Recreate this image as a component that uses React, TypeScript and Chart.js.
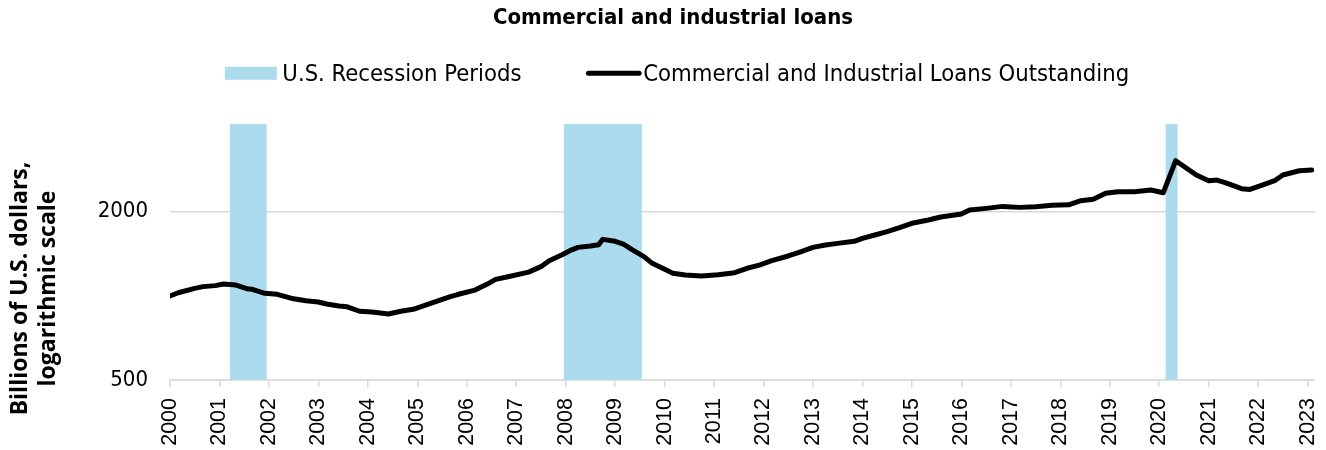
import React, { useEffect, useRef } from "react";
import { Chart, registerables } from "chart.js";

Chart.register(...registerables);

// ---------- text ----------
const TITLE = "Commercial and industrial loans";
const RECESSION_LABEL = "U.S. Recession Periods";
const LINE_LABEL = "Commercial and Industrial Loans Outstanding";
const Y_TITLE = ["Billions of U.S. dollars,", "logarithmic scale"];

// ---------- data ----------
const LOAN_DATES = [
  "2000-01", "2000-03", "2000-07", "2000-09", "2000-12",
  "2001-02", "2001-05", "2001-08", "2001-09", "2001-12",
  "2002-03", "2002-07", "2002-10",
  "2003-01", "2003-03", "2003-06", "2003-08", "2003-11",
  "2004-02", "2004-06", "2004-09", "2004-12",
  "2005-03", "2005-06", "2005-09", "2005-11",
  "2006-03", "2006-06", "2006-08", "2006-11",
  "2007-04", "2007-07", "2007-09", "2007-12",
  "2008-02", "2008-04", "2008-07", "2008-09", "2008-10",
  "2009-01", "2009-03", "2009-05", "2009-08", "2009-10",
  "2010-01", "2010-03", "2010-06", "2010-10",
  "2011-02", "2011-06", "2011-09", "2011-12",
  "2012-03", "2012-07", "2012-10",
  "2013-01", "2013-04", "2013-07", "2013-11",
  "2014-01", "2014-04", "2014-07", "2014-10",
  "2015-01", "2015-05", "2015-08",
  "2016-01", "2016-03", "2016-07", "2016-11",
  "2017-03", "2017-07", "2017-11",
  "2018-03", "2018-06", "2018-09", "2018-12",
  "2019-03", "2019-07", "2019-11",
  "2020-02", "2020-05", "2020-08", "2020-10",
  "2021-01", "2021-03", "2021-05", "2021-09", "2021-11",
  "2022-02", "2022-05", "2022-07", "2022-11",
  "2023-02",
];

const LOAN_VALUES = [
  1000, 1026, 1064, 1079, 1088,
  1102, 1093, 1058, 1055, 1021,
  1013, 976, 960,
  951, 935, 920, 914, 881,
  875, 861, 881, 895,
  927, 960, 993, 1013,
  1049, 1102, 1145, 1171,
  1216, 1272, 1336, 1400,
  1451, 1491, 1508, 1524, 1593,
  1567, 1533, 1466, 1382, 1307,
  1244, 1204, 1187, 1178,
  1190, 1210, 1255, 1289,
  1336, 1389, 1438,
  1491, 1520, 1541, 1567,
  1606, 1651, 1697, 1753,
  1818, 1868, 1915,
  1962, 2028, 2056, 2090,
  2073, 2084, 2108,
  2118, 2190, 2215, 2327,
  2358, 2358, 2392,
  2339, 3045, 2837, 2706,
  2582, 2597, 2543, 2418, 2404,
  2492, 2582, 2706, 2804,
  2820,
];

const RECESSION_STARTS = ["2001-03", "2007-12", "2020-02"];
const RECESSION_ENDS = ["2001-12", "2009-07", "2020-05"];

const YEAR_TICKS = [
  2000, 2001, 2002, 2003, 2004, 2005, 2006, 2007, 2008, 2009, 2010, 2011,
  2012, 2013, 2014, 2015, 2016, 2017, 2018, 2019, 2020, 2021, 2022, 2023,
];
const Y_TICKS = [500, 2000];

const X_MIN = 2000;
const X_MAX = 2023.15;
const Y_MIN = 500;
const Y_MAX = 4120;

// ---------- styles ----------
const COND = "'DejaVu Sans Condensed', 'DejaVu Sans', sans-serif";
const ARIAL = "'Liberation Sans', Arial, sans-serif";
const OPEN = "'Open Sans', 'Noto Sans', sans-serif";
const RECESSION_COLOR = "rgb(172, 219, 238)";
const GRID_COLOR = "#d9d9d9";

const monthStart = (s: string) => {
  const [y, m] = s.split("-").map(Number);
  return y + (m - 1) / 12;
};
const monthMid = (s: string) => monthStart(s) + 1 / 24;

const legendPlugin = {
  id: "customLegend",
  afterDraw(chart: any) {
    const ctx = chart.ctx as CanvasRenderingContext2D;
    ctx.save();
    ctx.font = `23.6px ${COND}`;
    ctx.textBaseline = "alphabetic";
    ctx.textAlign = "left";
    const w1 = ctx.measureText(RECESSION_LABEL).width;
    const w2 = ctx.measureText(LINE_LABEL).width;
    const sw1 = 52, gap1 = 5.5, between = 64.5, sw2 = 55.7, gap2 = 1.6;
    const total = sw1 + gap1 + w1 + between + sw2 + gap2 + w2;
    const cy = 73.3;
    const base = 81.3;
    let x = 677 - total / 2;
    ctx.fillStyle = RECESSION_COLOR;
    ctx.fillRect(x, cy - 6.5, sw1, 13);
    x += sw1 + gap1;
    ctx.fillStyle = "#000";
    ctx.fillText(RECESSION_LABEL, x, base);
    x += w1 + between;
    ctx.strokeStyle = "#000";
    ctx.lineWidth = 5;
    ctx.lineCap = "round";
    ctx.beginPath();
    ctx.moveTo(x + 2.5, cy);
    ctx.lineTo(x + sw2 - 2.5, cy);
    ctx.stroke();
    x += sw2 + gap2;
    ctx.fillText(LINE_LABEL, x, base);
    ctx.restore();
  },
};

const yTitlePlugin = {
  id: "yTitle",
  afterDraw(chart: any) {
    const ctx = chart.ctx as CanvasRenderingContext2D;
    const baselines = [27.3, 55];
    ctx.save();
    ctx.font = `bold 23px ${OPEN}`;
    ctx.fillStyle = "#000";
    ctx.textAlign = "center";
    ctx.textBaseline = "alphabetic";
    Y_TITLE.forEach((line, i) => {
      ctx.save();
      ctx.translate(baselines[i], 288.5);
      ctx.rotate(-Math.PI / 2);
      ctx.fillText(line, 0, 0);
      ctx.restore();
    });
    ctx.restore();
  },
};

export default function App() {
  const canvasRef = useRef<HTMLCanvasElement | null>(null);

  useEffect(() => {
    if (!canvasRef.current) return;
    const loanData = LOAN_DATES.map((d, i) => ({ x: monthStart(d), y: LOAN_VALUES[i] }));
    const recessionSets = RECESSION_STARTS.map((s, i) => ({
      type: "line" as const,
      label: RECESSION_LABEL,
      data: [
        { x: monthMid(s), y: Y_MAX },
        { x: monthMid(RECESSION_ENDS[i]), y: Y_MAX },
      ],
      fill: "start",
      backgroundColor: RECESSION_COLOR,
      borderColor: "rgba(0,0,0,0)",
      borderWidth: 0,
      pointRadius: 0,
      order: 2,
    }));

    const chart = new Chart(canvasRef.current, {
      type: "line",
      data: {
        datasets: [
          ...recessionSets,
          {
            type: "line" as const,
            label: LINE_LABEL,
            data: loanData,
            borderColor: "#000",
            borderWidth: 5,
            borderJoinStyle: "round",
            borderCapStyle: "round",
            pointRadius: 0,
            tension: 0,
            fill: false,
            order: 1,
          },
        ] as any,
      },
      options: {
        animation: false,
        responsive: false,
        events: [],
        layout: { padding: { left: 31, right: 11, top: 0, bottom: 0 } },
        plugins: {
          legend: { display: false },
          tooltip: { enabled: false },
          title: {
            display: true,
            text: TITLE,
            color: "#000",
            font: { family: COND, size: 22, weight: "bold" },
            padding: { top: 5, bottom: 92.6 },
          },
        },
        scales: {
          x: {
            type: "linear",
            min: X_MIN,
            max: X_MAX,
            afterBuildTicks: (scale: any) => {
              scale.ticks = YEAR_TICKS.map((v) => ({ value: v }));
            },
            afterFit: (scale: any) => {
              scale.height = 70;
              scale.paddingLeft = 0;
              scale.paddingRight = 0;
            },
            ticks: {
              autoSkip: false,
              minRotation: 90,
              maxRotation: 90,
              padding: 11,
              color: "#000",
              font: { family: ARIAL, size: 21.5 },
              callback: (v: any) => String(v),
            },
            grid: {
              drawOnChartArea: false,
              drawTicks: true,
              tickLength: 7,
              color: GRID_COLOR,
              lineWidth: 1.5,
            },
            border: { display: true, color: GRID_COLOR, width: 1.5 },
          },
          y: {
            type: "logarithmic",
            min: Y_MIN,
            max: Y_MAX,
            afterBuildTicks: (scale: any) => {
              scale.ticks = Y_TICKS.map((v) => ({ value: v }));
            },
            afterFit: (scale: any) => {
              scale.width = 139;
            },
            ticks: {
              padding: 22,
              color: "#000",
              font: { family: COND, size: 22 },
              callback: (v: any) => String(v),
            },
            grid: {
              drawTicks: false,
              color: GRID_COLOR,
              lineWidth: 1.5,
            },
            border: { display: false },
          },
        },
      } as any,
      plugins: [legendPlugin, yTitlePlugin],
    });
    return () => chart.destroy();
  }, []);

  return (
    <div style={{ position: "fixed", left: 0, top: 0, width: 1326, height: 450, background: "#fff" }}>
      <canvas ref={canvasRef} width={1326} height={450} style={{ display: "block" }} />
    </div>
  );
}
